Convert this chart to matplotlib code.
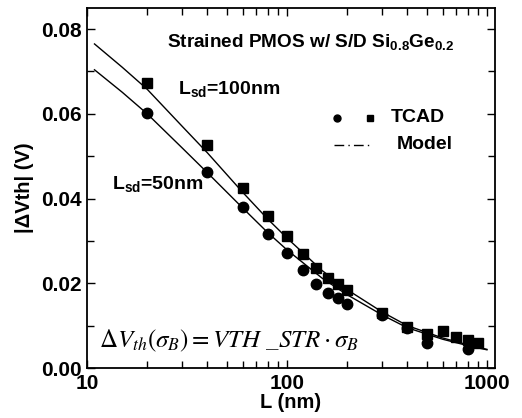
import matplotlib
matplotlib.use("Agg")
import matplotlib.pyplot as plt
from matplotlib.ticker import MultipleLocator, FixedLocator, LogLocator, NullFormatter

plt.rcParams['font.family'] = ['Liberation Sans', 'DejaVu Sans']
plt.rcParams['mathtext.fontset'] = 'custom'
plt.rcParams['mathtext.rm'] = 'Liberation Sans:bold'
plt.rcParams['mathtext.bf'] = 'Liberation Sans:bold'
plt.rcParams['mathtext.it'] = 'Liberation Sans:bold:italic'

# TCAD points, Lsd = 50 nm (circles)
L50 = [20, 40, 60, 80, 100, 120, 140, 160, 180, 200, 300, 400, 500, 800]
dv50 = [0.0603, 0.0462, 0.0381, 0.0316, 0.0271, 0.0231, 0.0198, 0.0178, 0.0166, 0.0152,
        0.0126, 0.0095, 0.0059, 0.0046]

# TCAD points, Lsd = 100 nm (squares)
L100 = [20, 40, 60, 80, 100, 120, 140, 160, 180, 200, 300, 400, 500, 600, 700, 800, 900]
dv100 = [0.0672, 0.0526, 0.0424, 0.0359, 0.0312, 0.0270, 0.0236, 0.0213, 0.0198, 0.0184,
         0.0129, 0.0097, 0.0081, 0.0087, 0.0074, 0.0066, 0.0060]

# model curves
Lm = [10.9, 15, 20, 30, 40, 60, 80, 100, 150, 200, 300, 400, 600, 800, 1000]
model100 = [0.0765, 0.0710, 0.0658, 0.0570, 0.0508, 0.0415, 0.0352, 0.0307, 0.0230,
            0.0185, 0.0132, 0.0100, 0.0071, 0.0055, 0.0044]
model50 = [0.0704, 0.0651, 0.0600, 0.0519, 0.0461, 0.0378, 0.0320, 0.0279, 0.0212,
           0.0173, 0.0125, 0.0095, 0.0068, 0.0053, 0.0043]

fig = plt.figure(figsize=(5.22, 4.18), dpi=100)
ax = fig.add_axes([0.1667, 0.1196, 0.7813, 0.8614])

ax.plot(Lm, model100, color='black', lw=1.0)
ax.plot(Lm, model50, color='black', lw=1.0)
ax.plot(L100, dv100, 's', color='black', ms=7)
ax.plot(L50, dv50, 'o', color='black', ms=7.5)

ax.set_xscale('log')
ax.set_xlim(10, 1096)
ax.set_ylim(0, 0.085)
ax.xaxis.set_major_locator(FixedLocator([10, 100, 1000]))
ax.xaxis.set_major_formatter(matplotlib.ticker.FixedFormatter(['10', '100', '1000']))
ax.xaxis.set_minor_locator(LogLocator(base=10, subs=range(2, 10)))
ax.xaxis.set_minor_formatter(NullFormatter())
ax.yaxis.set_major_locator(MultipleLocator(0.02))
ax.yaxis.set_minor_locator(MultipleLocator(0.01))
ax.yaxis.set_major_formatter(matplotlib.ticker.FormatStrFormatter('%.2f'))

ax.tick_params(which='both', direction='in', top=True, right=True, width=1.0,
               labelsize=15, pad=4)
ax.tick_params(which='major', length=6)
ax.tick_params(which='minor', length=5)
for lab in ax.get_xticklabels() + ax.get_yticklabels():
    lab.set_fontweight('bold')
for s in ax.spines.values():
    s.set_linewidth(1.3)

ax.set_xlabel('L (nm)', fontsize=14.5, fontweight='bold', labelpad=0)
ax.set_ylabel('|\u0394Vth| (V)', fontsize=14.5, fontweight='bold', labelpad=5)

fig.text(167 / 522, 1 - 42 / 418, r'Strained PMOS w/ S/D Si$_{\mathrm{0.8}}$Ge$_{\mathrm{0.2}}$',
         fontsize=13.7, fontweight='bold', va='center')
ax.text(0.222, 0.775, r'L$_{\mathrm{sd}}$=100nm', transform=ax.transAxes, fontsize=14,
        fontweight='bold', va='center')
ax.text(0.062, 0.51, r'L$_{\mathrm{sd}}$=50nm', transform=ax.transAxes, fontsize=14,
        fontweight='bold', va='center')
ax.text(0.03, 0.075, r'$\Delta V_{th}(\sigma_B) = VTH\ \_STR\cdot\sigma_B$',
        transform=ax.transAxes, fontsize=18, va='center', math_fontfamily='stix')

# hand-made legend
ax.plot([0.612], [0.695], 'o', color='black', ms=5, transform=ax.transAxes, clip_on=False)
ax.plot([0.695], [0.695], 's', color='black', ms=5, transform=ax.transAxes, clip_on=False)
ax.text(0.745, 0.695, 'TCAD', transform=ax.transAxes, fontsize=14, fontweight='bold',
        va='center')
ax.plot([0.605, 0.697], [0.62, 0.62], color='black', lw=1.0, ls=(0, (7, 3, 1, 3)),
        transform=ax.transAxes)
ax.text(0.76, 0.62, 'Model', transform=ax.transAxes, fontsize=14, fontweight='bold',
        va='center')

fig.savefig('out.png', dpi=100)
